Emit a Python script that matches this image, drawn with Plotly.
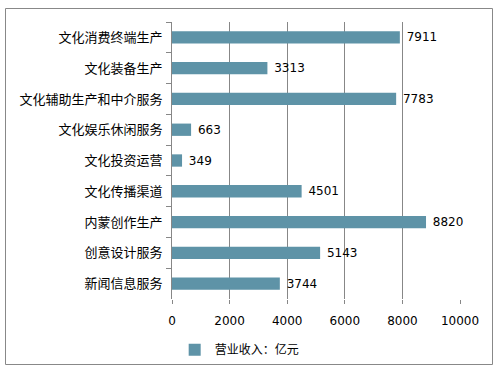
import plotly.graph_objects as go

categories = ["文化消费终端生产", "文化装备生产", "文化辅助生产和中介服务", "文化娱乐休闲服务",
              "文化投资运营", "文化传播渠道", "内蒙创作生产", "创意设计服务", "新闻信息服务"]
values = [7911, 3313, 7783, 663, 349, 4501, 8820, 5143, 3744]
x_ticks = [0, 2000, 4000, 6000, 8000, 10000]
series_name = "营业收入：亿元"

BAR = "#5E93A7"
GRID = "#878787"
FONT = "Noto Sans CJK SC, sans-serif"
NUMFONT = "DejaVu Sans, sans-serif"

fig = go.Figure(go.Bar(
    y=categories, x=values, orientation="h", name=series_name,
    marker=dict(color=BAR, line=dict(width=0)),
    texttemplate="\u00a0%{x}", textposition="outside", constraintext="none",
    textfont=dict(size=12, color="#000000", family=NUMFONT),
    cliponaxis=False, hoverinfo="skip",
))

fig.update_layout(
    width=501, height=370,
    margin=dict(l=172, r=41, t=22, b=71, autoexpand=False),
    paper_bgcolor="white", plot_bgcolor="white",
    font=dict(family=FONT, size=13, color="#000000"),
    bargap=0.6,
    showlegend=True,
    legend=dict(orientation="h", x=0.235, y=-0.131, xanchor="center", yanchor="top",
                font=dict(size=12), itemwidth=30),
    xaxis=dict(range=[0, 10000], tickvals=x_ticks, ticktext=[str(t) for t in x_ticks],
               showgrid=True, gridcolor=GRID, gridwidth=1, automargin=False,
               zeroline=False, showline=False, ticks="outside", ticklen=4, tickcolor=GRID,
               tickfont=dict(size=12, family=NUMFONT), ticklabelstandoff=7),
    yaxis=dict(autorange="reversed", type="category", tickson="boundaries", ticks="outside",
               ticklen=5, tickcolor=GRID, showline=True, linecolor=GRID, linewidth=1,
               automargin=False,
               showgrid=False, tickfont=dict(size=13), ticklabelstandoff=6),
    shapes=[dict(type="rect", xref="paper", yref="paper",
                 x0=(5.5 - 172) / 288, x1=(492.5 - 172) / 288,
                 y0=(299 - 364.5) / 277, y1=(299 - 8.5) / 277,
                 line=dict(color="#888888", width=1), fillcolor="rgba(0,0,0,0)", layer="below")],
)

fig.write_html("out.html", config={"displayModeBar": False},
               post_script="document.body.style.margin='0';document.body.style.overflow='hidden';")
